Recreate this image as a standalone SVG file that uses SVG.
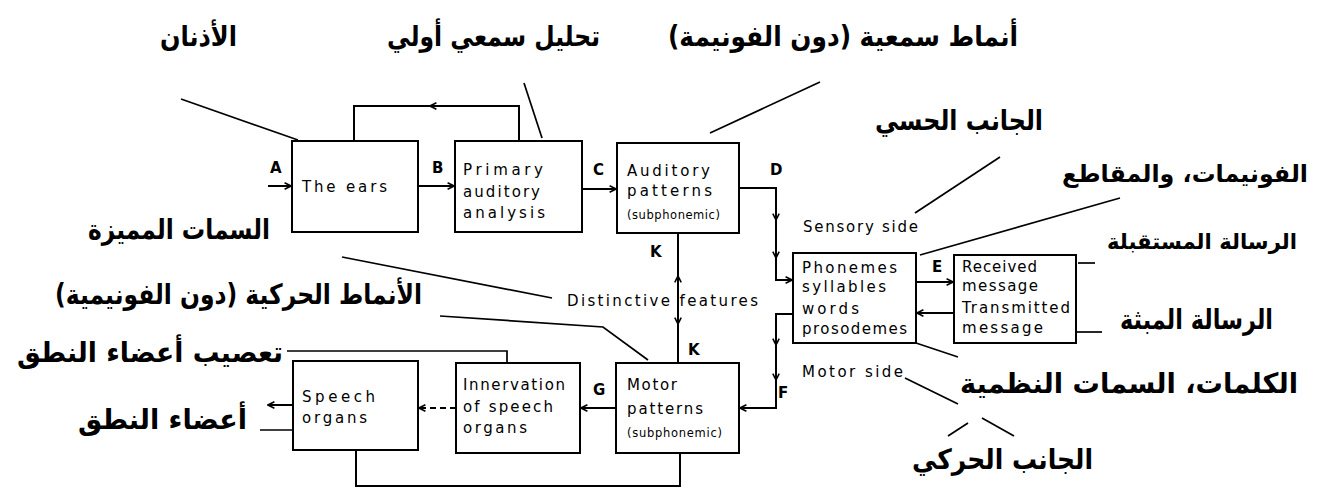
<svg xmlns="http://www.w3.org/2000/svg" width="1317" height="491" viewBox="0 0 1317 491">
<defs>
<style>
.box{fill:#fff;stroke:#000;stroke-width:2}
.t{font-family:"DejaVu Sans","Liberation Sans",sans-serif;font-size:15px;fill:#000}
.s{font-family:"DejaVu Sans","Liberation Sans",sans-serif;font-size:11.5px;fill:#000}
.lb{font-family:"DejaVu Sans","Liberation Sans",sans-serif;font-size:15px;font-weight:bold;fill:#000}
.ar{font-family:"DejaVu Sans",sans-serif;font-size:28px;font-weight:bold;fill:#000}
.c{fill:none;stroke:#000;stroke-width:2}
.d{fill:none;stroke:#000;stroke-width:2;stroke-dasharray:6 4}
.l{fill:none;stroke:#000;stroke-width:1.7}
</style>
<marker id="ah" viewBox="0 0 10 10" refX="9" refY="5" markerWidth="8" markerHeight="8" orient="auto" markerUnits="userSpaceOnUse">
<path d="M1,1 L9,5 L1,9" fill="none" stroke="#000" stroke-width="2"/>
</marker>
</defs>
<rect width="1317" height="491" fill="#fff"/>

<g id="connectors">
<path class="c" d="M268,186 H291" marker-end="url(#ah)"/>
<path class="c" d="M418,186 H454" marker-end="url(#ah)"/>
<path class="c" d="M582,189 H616" marker-end="url(#ah)"/>
<path class="c" d="M519,141 V106 H430" marker-end="url(#ah)"/>
<path class="c" d="M432,106 H354 V141"/>
<path class="c" d="M739,188 H776 V220" marker-end="url(#ah)"/>
<path class="c" d="M776,218 V258" marker-end="url(#ah)"/>
<path class="c" d="M776,256 V280 H792" marker-end="url(#ah)"/>
<path class="c" d="M793,314 H776 V345" marker-end="url(#ah)"/>
<path class="c" d="M776,343 V380" marker-end="url(#ah)"/>
<path class="c" d="M776,378 V408 H740" marker-end="url(#ah)"/>
<path class="c" d="M678,300 V276" marker-end="url(#ah)"/>
<path class="c" d="M678,278 V233"/>
<path class="c" d="M678,300 V324" marker-end="url(#ah)"/>
<path class="c" d="M678,322 V363"/>
<path class="c" d="M916,282 H953" marker-end="url(#ah)"/>
<path class="c" d="M954,313 H917" marker-end="url(#ah)"/>
<path class="c" d="M616,408 H581" marker-end="url(#ah)"/>
<path class="d" d="M456,408 H419" marker-end="url(#ah)"/>
<path class="c" d="M293,405 H268" marker-end="url(#ah)"/>
<path class="c" d="M356,450 V486 H680 V453"/>
</g>

<g id="leaders">
<path class="l" d="M181,99 L298,140"/>
<path class="l" d="M524,83 L542,138"/>
<path class="l" d="M820,82 L710,133"/>
<path class="l" d="M1000,157 L915,213"/>
<path class="l" d="M1120,198 L920,255"/>
<path class="l" d="M1078,263 H1095"/>
<path class="l" d="M1077,332 H1102"/>
<path class="l" d="M916,343 L958,357"/>
<path class="l" d="M905,378 L958,404"/>
<path class="l" d="M982,418 L1014,436"/>
<path class="l" d="M948,436 L968,423"/>
<path class="l" d="M342,257 L552,298"/>
<path class="l" d="M440,316 L603,327 L648,360"/>
<path class="l" d="M287,351 H507 V363"/>
<path class="l" d="M260,430 H293"/>
</g>

<g id="ears">
<rect class="box" x="292" y="141" width="126" height="91"/>
<text class="t" x="302" y="192" textLength="85" lengthAdjust="spacing">The ears</text>
</g>
<g id="primary">
<rect class="box" x="455" y="141" width="127" height="91"/>
<text class="t" x="463" y="175" textLength="80" lengthAdjust="spacing">Primary</text>
<text class="t" x="463" y="197" textLength="77" lengthAdjust="spacing">auditory</text>
<text class="t" x="463" y="218" textLength="82" lengthAdjust="spacing">analysis</text>
</g>
<g id="auditory">
<rect class="box" x="617" y="143" width="122" height="90"/>
<text class="t" x="627" y="176" textLength="83" lengthAdjust="spacing">Auditory</text>
<text class="t" x="627" y="196" textLength="85" lengthAdjust="spacing">patterns</text>
<text class="s" x="627" y="219" textLength="93" lengthAdjust="spacing">(subphonemic)</text>
</g>
<g id="phonemes">
<rect class="box" x="793" y="253" width="123" height="90"/>
<text class="t" x="802" y="273" textLength="95" lengthAdjust="spacing">Phonemes</text>
<text class="t" x="802" y="292" textLength="84" lengthAdjust="spacing">syllables</text>
<text class="t" x="802" y="314" textLength="57" lengthAdjust="spacing">words</text>
<text class="t" x="802" y="334" textLength="105" lengthAdjust="spacing">prosodemes</text>
</g>
<g id="message">
<rect class="box" x="954" y="255" width="122" height="88"/>
<text class="t" x="962" y="272" textLength="75" lengthAdjust="spacing">Received</text>
<text class="t" x="962" y="291" textLength="76" lengthAdjust="spacing">message</text>
<text class="t" x="962" y="313" textLength="108" lengthAdjust="spacing">Transmitted</text>
<text class="t" x="962" y="333" textLength="81" lengthAdjust="spacing">message</text>
</g>
<g id="motor">
<rect class="box" x="616" y="363" width="123" height="90"/>
<text class="t" x="627" y="390" textLength="50" lengthAdjust="spacing">Motor</text>
<text class="t" x="627" y="414" textLength="76" lengthAdjust="spacing">patterns</text>
<text class="s" x="627" y="437" textLength="95" lengthAdjust="spacing">(subphonemic)</text>
</g>
<g id="innervation">
<rect class="box" x="456" y="363" width="124" height="90"/>
<text class="t" x="463" y="390" textLength="102" lengthAdjust="spacing">Innervation</text>
<text class="t" x="463" y="412" textLength="90" lengthAdjust="spacing">of speech</text>
<text class="t" x="463" y="433" textLength="64" lengthAdjust="spacing">organs</text>
</g>
<g id="speech">
<rect class="box" x="293" y="361" width="125" height="89"/>
<text class="t" x="302" y="402" textLength="73" lengthAdjust="spacing">Speech</text>
<text class="t" x="302" y="423" textLength="65" lengthAdjust="spacing">organs</text>
</g>

<g id="labels">
<text class="lb" x="270" y="173">A</text>
<text class="lb" x="432" y="173">B</text>
<text class="lb" x="593" y="175">C</text>
<text class="lb" x="770" y="175">D</text>
<text class="lb" x="932" y="272">E</text>
<text class="lb" x="778" y="398">F</text>
<text class="lb" x="593" y="395">G</text>
<text class="lb" x="650" y="257">K</text>
<text class="lb" x="688" y="355">K</text>
<text class="t" x="567" y="306" textLength="191" lengthAdjust="spacing">Distinctive features</text>
<text class="t" x="803" y="232" textLength="115" lengthAdjust="spacing">Sensory side</text>
<text class="t" x="802" y="377" textLength="101" lengthAdjust="spacing">Motor side</text>
</g>

<g id="arabic" direction="rtl">
<text class="ar" x="160" y="46" text-anchor="end" textLength="77" lengthAdjust="spacingAndGlyphs">الأذنان</text>
<text class="ar" x="387" y="46" text-anchor="end" textLength="213" lengthAdjust="spacingAndGlyphs">تحليل سمعي أولي</text>
<text class="ar" x="668" y="46" text-anchor="end" textLength="350" lengthAdjust="spacingAndGlyphs">أنماط سمعية (دون الفونيمة)</text>
<text class="ar" x="875" y="130" text-anchor="end" textLength="168" lengthAdjust="spacingAndGlyphs">الجانب الحسي</text>
<text class="ar" x="1062" y="182" text-anchor="end" textLength="246" lengthAdjust="spacingAndGlyphs" style="font-size:24px">الفونيمات، والمقاطع</text>
<text class="ar" x="1107" y="249" text-anchor="end" textLength="190" lengthAdjust="spacingAndGlyphs" style="font-size:21.5px">الرسالة المستقبلة</text>
<text class="ar" x="1120" y="329" text-anchor="end" textLength="153" lengthAdjust="spacingAndGlyphs">الرسالة المبثة</text>
<text class="ar" x="960" y="393" text-anchor="end" textLength="338" lengthAdjust="spacingAndGlyphs">الكلمات، السمات النظمية</text>
<text class="ar" x="912" y="469" text-anchor="end" textLength="181" lengthAdjust="spacingAndGlyphs">الجانب الحركي</text>
<text class="ar" x="88" y="239" text-anchor="end" textLength="182" lengthAdjust="spacingAndGlyphs">السمات المميزة</text>
<text class="ar" x="55" y="304" text-anchor="end" textLength="367" lengthAdjust="spacingAndGlyphs">الأنماط الحركية (دون الفونيمية)</text>
<text class="ar" x="17" y="362" text-anchor="end" textLength="266" lengthAdjust="spacingAndGlyphs">تعصيب أعضاء النطق</text>
<text class="ar" x="78" y="429" text-anchor="end" textLength="169" lengthAdjust="spacingAndGlyphs">أعضاء النطق</text>
</g>
</svg>
